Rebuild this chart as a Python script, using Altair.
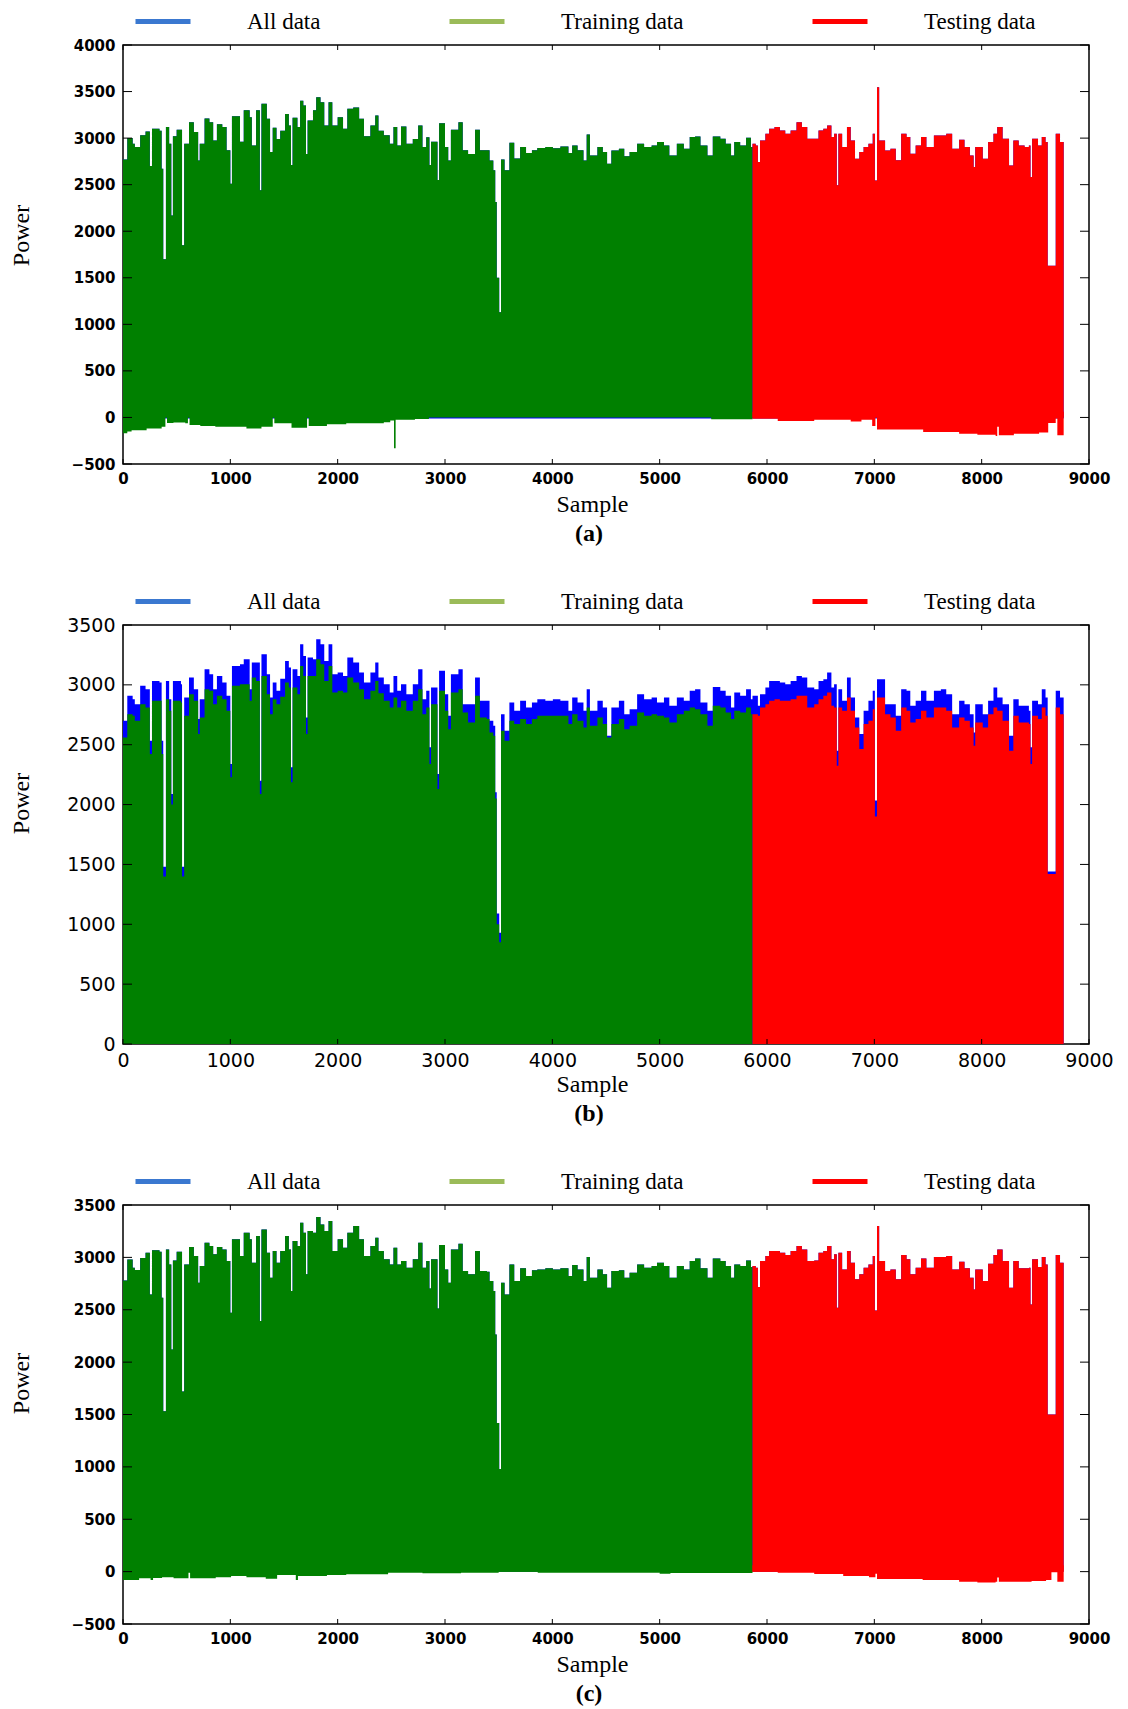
import altair as alt
import pandas as pd

# ---------------- data ----------------
SERIES = ["All data", "Training data", "Testing data"]
LEGEND_COLORS = ["#3a78d0", "#9bbb59", "#ff0000"]
BLUE, GREEN, RED = "#0000ff", "#008000", "#ff0000"

X_TICKS = [0, 1000, 2000, 3000, 4000, 5000, 6000, 7000, 8000, 9000]
Y_TICKS_A = [-500, 0, 500, 1000, 1500, 2000, 2500, 3000, 3500, 4000]
Y_TICKS_B = [0, 500, 1000, 1500, 2000, 2500, 3000, 3500]
Y_TICKS_C = [-500, 0, 500, 1000, 1500, 2000, 2500, 3000, 3500]

TRAIN_X = [0, 40, 90, 110, 160, 210, 250, 270, 340, 360,
           375, 400, 430, 450, 465, 500, 540, 550, 570, 615,
           660, 700, 715, 760, 805, 840, 875, 925, 965, 1000,
           1015, 1090, 1125, 1180, 1200, 1240, 1275, 1290, 1340, 1370,
           1395, 1430, 1465, 1510, 1545, 1565, 1580, 1625, 1650, 1680,
           1705, 1720, 1770, 1800, 1840, 1875, 1915, 1950, 2000, 2050,
           2090, 2145, 2200, 2245, 2305, 2350, 2380, 2430, 2485, 2520,
           2555, 2590, 2640, 2700, 2750, 2790, 2825, 2855, 2870, 2930,
           2945, 3000, 3030, 3055, 3125, 3165, 3215, 3280, 3325, 3390,
           3415, 3450, 3468, 3482, 3505, 3522, 3555, 3600, 3645, 3700,
           3755, 3810, 3860, 3935, 4005, 4075, 4150, 4185, 4235, 4290,
           4320, 4350, 4420, 4470, 4510, 4550, 4620, 4670, 4720, 4790,
           4855, 4925, 4975, 5040, 5090, 5160, 5225, 5280, 5330, 5380,
           5445, 5495, 5565, 5615, 5665, 5695, 5750, 5805, 5850, 5865]

TEST_X = [5865, 5895, 5915, 5935, 5985, 6020, 6070, 6120, 6170, 6220,
          6275, 6325, 6375, 6440, 6480, 6525, 6560, 6600, 6625, 6650,
          6665, 6700, 6745, 6780, 6820, 6860, 6900, 6945, 6985, 7005,
          7025, 7045, 7100, 7150, 7200, 7250, 7300, 7335, 7385, 7435,
          7485, 7555, 7620, 7670, 7725, 7790, 7840, 7890, 7925, 7940,
          8010, 8060, 8110, 8145, 8195, 8255, 8295, 8345, 8400, 8440,
          8455, 8470, 8525, 8560, 8595, 8615, 8690, 8730, 8764]

# panel (a) upper envelopes
A_TRAIN_TOP = [2770, 3000, 2940, 2905, 3030, 3070, 2700, 3100, 3080, 2670,
               1700, 3120, 2940, 2170, 3020, 3090, 3090, 1850, 2940, 3170,
               3065, 2760, 2940, 3210, 3170, 2975, 3150, 3120, 2870, 2510,
               3236, 2960, 3300, 3225, 2920, 3300, 2440, 3370, 3207, 2850,
               3110, 2990, 3080, 3260, 3135, 2710, 3220, 3120, 3400, 3350,
               2830, 3190, 3300, 3440, 3385, 3135, 3385, 3135, 3225, 3100,
               3315, 3330, 3207, 3020, 3135, 3243, 3080, 3030, 2940, 3120,
               2920, 3125, 2940, 2990, 3135, 2905, 3010, 2710, 2960, 2550,
               3160, 2905, 2760, 3090, 3170, 2870, 2830, 3090, 2870, 2870,
               2760, 2655, 2315, 1500, 1130, 2770, 2655, 2950, 2780, 2905,
               2840, 2870, 2895, 2905, 2890, 2910, 2840, 2920, 2870, 2760,
               3040, 2814, 2904, 2850, 2725, 2868, 2886, 2804, 2850, 2939,
               2904, 2921, 2957, 2921, 2814, 2939, 2886, 3011, 3018, 2921,
               2814, 3018, 2993, 2939, 2814, 2957, 2921, 3004, 2904, 2904]
A_TEST_TOP = [2939, 2921, 2743, 2975, 3046, 3100, 3118, 3082, 3046, 3082,
              3171, 3118, 2993, 2993, 3082, 3100, 3136, 3011, 3046, 2493,
              3046, 2904, 3118, 2975, 2779, 2850, 2904, 2939, 3046, 2546,
              3546, 2975, 2868, 2886, 2761, 3046, 3011, 2832, 2921, 3011,
              2904, 3029, 3029, 3046, 2886, 2982, 2904, 2814, 2689, 2904,
              2779, 2957, 3046, 3118, 2993, 2707, 2975, 2921, 2904, 2921,
              2582, 2993, 2921, 3011, 2957, 1630, 3046, 2957, 2957]
# panel (a) lower envelopes
A_TRAIN_LOW_X = [0, 40, 80, 220, 360, 395, 410, 470, 580, 605,
                 620, 720, 860, 1000, 1150, 1290, 1395, 1410, 1570, 1715,
                 1730, 1900, 2080, 2290, 2430, 2490, 2525, 2540, 2720, 2850,
                 5480, 5865]
A_TRAIN_LOW = [-170, -150, -137, -118, -100, 0, -60, -55, -63, 0,
               -80, -92, -100, -100, -118, -100, 0, -63, -111, 0,
               -92, -74, -63, -63, -52, -33, -330, -26, -18, 10,
               -20, -20]
A_TEST_LOW_X = [5865, 6100, 6440, 6780, 6880, 6980, 7010, 7025, 7290, 7455,
                7790, 7960, 8130, 8145, 8160, 8300, 8535, 8620, 8690, 8705, 8764]
A_TEST_LOW = [-15, -37, -26, -44, -26, -92, 0, -130, -130, -155,
              -174, -185, -200, -100, -190, -174, -163, -60, -10, -192, -192]
A_ALL_LOW_X = [0, 8764]
A_ALL_LOW = [-12, -12]

# panel (b) upper envelopes
B_ALL_TRAIN_TOP = [2700, 2908, 2880, 2839, 2992, 2964, 2533, 3033, 3019, 2533,
                   1480, 3033, 2880, 2089, 3033, 3033, 3005, 1480, 2894, 3061,
                   2964, 2714, 2880, 3131, 3089, 2964, 3075, 3019, 2908, 2339,
                   3158, 3172, 3214, 2964, 3186, 3186, 2200, 3256, 3089, 2894,
                   3019, 2950, 3050, 3200, 3144, 2311, 3131, 3075, 3339, 3242,
                   2728, 3228, 3214, 3381, 3339, 3200, 3339, 3089, 3103, 3075,
                   3228, 3186, 3103, 3019, 3103, 3186, 3061, 3005, 2936, 3075,
                   2950, 3005, 2922, 3005, 3131, 2880, 2950, 2478, 2978, 2255,
                   3117, 2922, 2742, 3089, 3131, 2839, 2839, 3061, 2867, 2867,
                   2700, 2658, 2103, 1090, 930, 2755, 2617, 2853, 2783, 2867,
                   2811, 2853, 2880, 2867, 2880, 2867, 2783, 2894, 2853, 2783,
                   2964, 2783, 2867, 2811, 2575, 2811, 2867, 2755, 2797, 2922,
                   2880, 2894, 2853, 2894, 2825, 2894, 2867, 2950, 2964, 2853,
                   2783, 2983, 2950, 2908, 2811, 2936, 2908, 2964, 2880, 2908]
B_ALL_TEST_TOP = [2908, 2908, 2825, 2922, 2978, 3033, 3033, 3019, 3005, 3033,
                  3075, 3061, 2978, 2964, 3033, 3047, 3103, 2978, 3005, 2450,
                  2964, 2867, 3061, 2894, 2728, 2589, 2783, 2867, 2950, 2033,
                  3047, 3047, 2839, 2839, 2742, 2964, 2950, 2825, 2867, 2950,
                  2867, 2950, 2964, 2922, 2755, 2867, 2839, 2755, 2603, 2839,
                  2755, 2867, 2978, 2894, 2839, 2575, 2880, 2825, 2825, 2783,
                  2478, 2867, 2839, 2964, 2894, 1440, 2950, 2894, 2894]
B_TRAIN_TOP = [2561, 2755, 2742, 2700, 2839, 2811, 2422, 2867, 2867, 2422,
               1400, 2880, 2783, 2000, 2867, 2867, 2853, 1400, 2742, 2922,
               2867, 2589, 2728, 2964, 2950, 2839, 2908, 2880, 2783, 2228,
               2992, 3005, 3005, 2867, 3061, 3033, 2089, 3075, 2922, 2755,
               2880, 2839, 2900, 3019, 2978, 2186, 2978, 2922, 3158, 3075,
               2589, 3075, 3075, 3214, 3172, 3033, 3158, 2936, 2950, 2936,
               3061, 3019, 2964, 2880, 2950, 3033, 2930, 2867, 2811, 2894,
               2811, 2867, 2783, 2867, 2964, 2755, 2811, 2339, 2839, 2131,
               2950, 2783, 2630, 2936, 2964, 2769, 2686, 2908, 2728, 2714,
               2603, 2575, 2050, 1000, 850, 2617, 2533, 2700, 2672, 2714,
               2672, 2714, 2742, 2742, 2742, 2742, 2672, 2755, 2700, 2644,
               2811, 2658, 2728, 2672, 2561, 2672, 2714, 2630, 2658, 2769,
               2742, 2755, 2742, 2728, 2686, 2755, 2783, 2811, 2797, 2755,
               2658, 2825, 2811, 2769, 2714, 2783, 2769, 2811, 2755, 2755]
B_TEST_TOP = [2755, 2755, 2742, 2811, 2839, 2867, 2880, 2867, 2867, 2880,
              2908, 2908, 2811, 2839, 2880, 2908, 2936, 2825, 2811, 2325,
              2811, 2783, 2894, 2783, 2644, 2464, 2672, 2700, 2797, 1900,
              2894, 2894, 2755, 2728, 2617, 2811, 2783, 2686, 2714, 2783,
              2728, 2811, 2811, 2783, 2644, 2728, 2700, 2644, 2492, 2686,
              2644, 2755, 2811, 2783, 2700, 2450, 2742, 2686, 2686, 2672,
              2339, 2742, 2714, 2811, 2742, 1420, 2811, 2755, 2755]

# panel (c) upper envelopes
C_TRAIN_TOP = [2780, 2980, 2900, 2880, 2995, 3045, 2645, 3067, 3054, 2615,
               1530, 3076, 2933, 2120, 2970, 3054, 3054, 1720, 2933, 3099,
               3013, 2758, 2917, 3140, 3108, 3029, 3099, 3076, 2965, 2471,
               3172, 3013, 3236, 3172, 2949, 3204, 2392, 3267, 3045, 2806,
               3060, 2949, 3060, 3204, 3076, 2678, 3156, 3108, 3331, 3236,
               2838, 3252, 3236, 3385, 3315, 3252, 3347, 3060, 3172, 3092,
               3236, 3299, 3172, 3013, 3108, 3188, 3060, 2981, 2933, 3092,
               2933, 2965, 2901, 2981, 3140, 2901, 2965, 2704, 2981, 2513,
               3118, 2885, 2758, 3076, 3131, 2869, 2838, 3060, 2869, 2863,
               2774, 2678, 2264, 1420, 980, 2758, 2646, 2933, 2774, 2895,
               2822, 2876, 2885, 2895, 2885, 2895, 2822, 2927, 2885, 2774,
               3003, 2806, 2885, 2838, 2710, 2869, 2876, 2806, 2853, 2933,
               2901, 2917, 2949, 2917, 2806, 2917, 2885, 2965, 2990, 2895,
               2806, 2990, 2965, 2917, 2806, 2933, 2917, 2971, 2908, 2908]
C_TEST_TOP = [2917, 2901, 2717, 2965, 3013, 3060, 3060, 3045, 3022, 3060,
              3108, 3076, 2965, 2971, 3045, 3060, 3108, 2981, 3029, 2519,
              3045, 2885, 3060, 2949, 2790, 2838, 2901, 2933, 3013, 2494,
              3299, 2965, 2869, 2885, 2790, 3022, 2981, 2838, 2901, 2990,
              2901, 3003, 3003, 3013, 2885, 2959, 2895, 2806, 2694, 2885,
              2774, 2940, 3022, 3076, 2965, 2710, 2965, 2895, 2895, 2901,
              2551, 2981, 2908, 3003, 2933, 1500, 3022, 2949, 2949]
# panel (c) lower envelopes
C_TRAIN_LOW_X = [0, 150, 257, 280, 364, 471, 610, 625, 720, 864,
                 1007, 1150, 1330, 1436, 1610, 1630, 1900, 2080, 2440, 2470,
                 2790, 3150, 3500, 3864, 5000, 5100, 5865]
C_TRAIN_LOW = [-80, -64, -80, -60, -54, -64, -10, -64, -64, -54,
               -42, -54, -67, -32, -80, -42, -32, -26, -26, -10,
               -16, -10, 0, -10, -20, -12, -12]
C_TEST_LOW_X = [5865, 6100, 6440, 6710, 6950, 7010, 7025, 7450, 7790, 7960,
                8130, 8145, 8160, 8465, 8600, 8650, 8705, 8764]
C_TEST_LOW = [0, -10, -22, -42, -54, -20, -70, -80, -96, -105,
              -96, -55, -96, -90, -80, -5, -96, -96]

W, H = 966, 419


def area(xs, vs, color, X, Y, base):
    df = pd.DataFrame({"x": xs, "v": vs})
    return alt.Chart(df).mark_area(color=color, interpolate="step-after", clip=True).encode(
        x=X(), y=Y(), y2=alt.Y2Datum(base))


def panel(tag, ydom, yticks, tops, lows, lab_fs, lab_w, title_y):
    xs = alt.Scale(domain=[0, 9000], nice=False, zero=False)
    ys = alt.Scale(domain=ydom, nice=False, zero=False)
    xaxis = alt.Axis(values=X_TICKS, format="d", labelFont="DejaVu Sans", labelFontSize=lab_fs,
                     labelFontWeight=lab_w, labelColor="black", labelPadding=7, labelFlush=False,
                     ticks=False, domain=False, grid=False, title="Sample",
                     titleFont="Liberation Serif", titleFontSize=24, titleFontWeight="normal",
                     titleColor="black", titleX=469, titleY=28, titleBaseline="top")
    yaxis = alt.Axis(values=yticks, format="d", labelFont="DejaVu Sans", labelFontSize=lab_fs,
                     labelFontWeight=lab_w, labelColor="black", labelPadding=8, ticks=False,
                     domain=False, grid=False, title="Power", titleFont="Liberation Serif",
                     titleFontSize=24, titleFontWeight="normal", titleColor="black",
                     titleX=-90, titleY=title_y)

    def X():
        return alt.X("x:Q", scale=xs, axis=xaxis)

    def Y():
        return alt.Y("v:Q", scale=ys, axis=yaxis)

    layers = []
    for (txs, tvs, col), low in zip(tops, lows):
        layers.append(area(txs, tvs, col, X, Y, 0))
        if low is not None:
            layers.append(area(low[0], low[1], col, X, Y, 60))

    xt = pd.DataFrame({"x": X_TICKS})
    yt = pd.DataFrame({"v": yticks})
    tick = dict(color="black", strokeWidth=1)
    layers.append(alt.Chart(xt).mark_rule(**tick).encode(x=X(), y=alt.value(H), y2=alt.value(H - 5)))
    layers.append(alt.Chart(xt).mark_rule(**tick).encode(x=X(), y=alt.value(0), y2=alt.value(5)))
    layers.append(alt.Chart(yt).mark_rule(**tick).encode(y=Y(), x=alt.value(0), x2=alt.value(9)))
    layers.append(alt.Chart(yt).mark_rule(**tick).encode(y=Y(), x=alt.value(W), x2=alt.value(W - 9)))

    leg = alt.Chart(pd.DataFrame({"series": SERIES})).mark_point(opacity=0, filled=False).encode(
        color=alt.Color("series:N", scale=alt.Scale(domain=SERIES, range=LEGEND_COLORS),
                        legend=alt.Legend(orient="none", legendX=10, legendY=-53.5,
                                          direction="horizontal", title=None,
                                          symbolType="stroke", symbolSize=3025,
                                          symbolStrokeWidth=5, symbolOpacity=1,
                                          labelFont="Liberation Serif", labelFontSize=23,
                                          labelColor="black", labelOffset=54,
                                          columnPadding=118, padding=0)))
    layers.append(leg)

    return alt.layer(*layers).properties(
        width=W, height=H,
        title=alt.TitleParams(tag, orient="bottom", font="Liberation Serif", fontSize=24,
                              fontWeight="bold", color="black", anchor="middle", dx=-17, offset=6))


all_x = TRAIN_X[:-1] + TEST_X

pa = panel("(a)", [-500, 4000], Y_TICKS_A,
           [(all_x, A_TRAIN_TOP[:-1] + A_TEST_TOP, BLUE),
            (TRAIN_X, A_TRAIN_TOP, GREEN),
            (TEST_X, A_TEST_TOP, RED)],
           [(A_ALL_LOW_X, A_ALL_LOW), (A_TRAIN_LOW_X, A_TRAIN_LOW), (A_TEST_LOW_X, A_TEST_LOW)],
           15, "bold", 190)

pb = panel("(b)", [0, 3500], Y_TICKS_B,
           [(all_x, B_ALL_TRAIN_TOP[:-1] + B_ALL_TEST_TOP, BLUE),
            (TRAIN_X, B_TRAIN_TOP, GREEN),
            (TEST_X, B_TEST_TOP, RED)],
           [None, None, None],
           19, "normal", 178)

pc = panel("(c)", [-500, 3500], Y_TICKS_C,
           [(all_x, C_TRAIN_TOP[:-1] + C_TEST_TOP, BLUE),
            (TRAIN_X, C_TRAIN_TOP, GREEN),
            (TEST_X, C_TEST_TOP, RED)],
           [None, (C_TRAIN_LOW_X, C_TRAIN_LOW), (C_TEST_LOW_X, C_TEST_LOW)],
           15, "bold", 178)

chart = alt.vconcat(pa, pb, pc, spacing=23).resolve_scale(
    color="independent", x="independent", y="independent").resolve_legend(
    color="independent").configure_view(stroke="black", strokeWidth=1.5).properties(
    padding={"left": 0, "top": -18, "right": 0, "bottom": 0})

chart.save("out.html", embed_options={"renderer": "svg", "actions": False})
